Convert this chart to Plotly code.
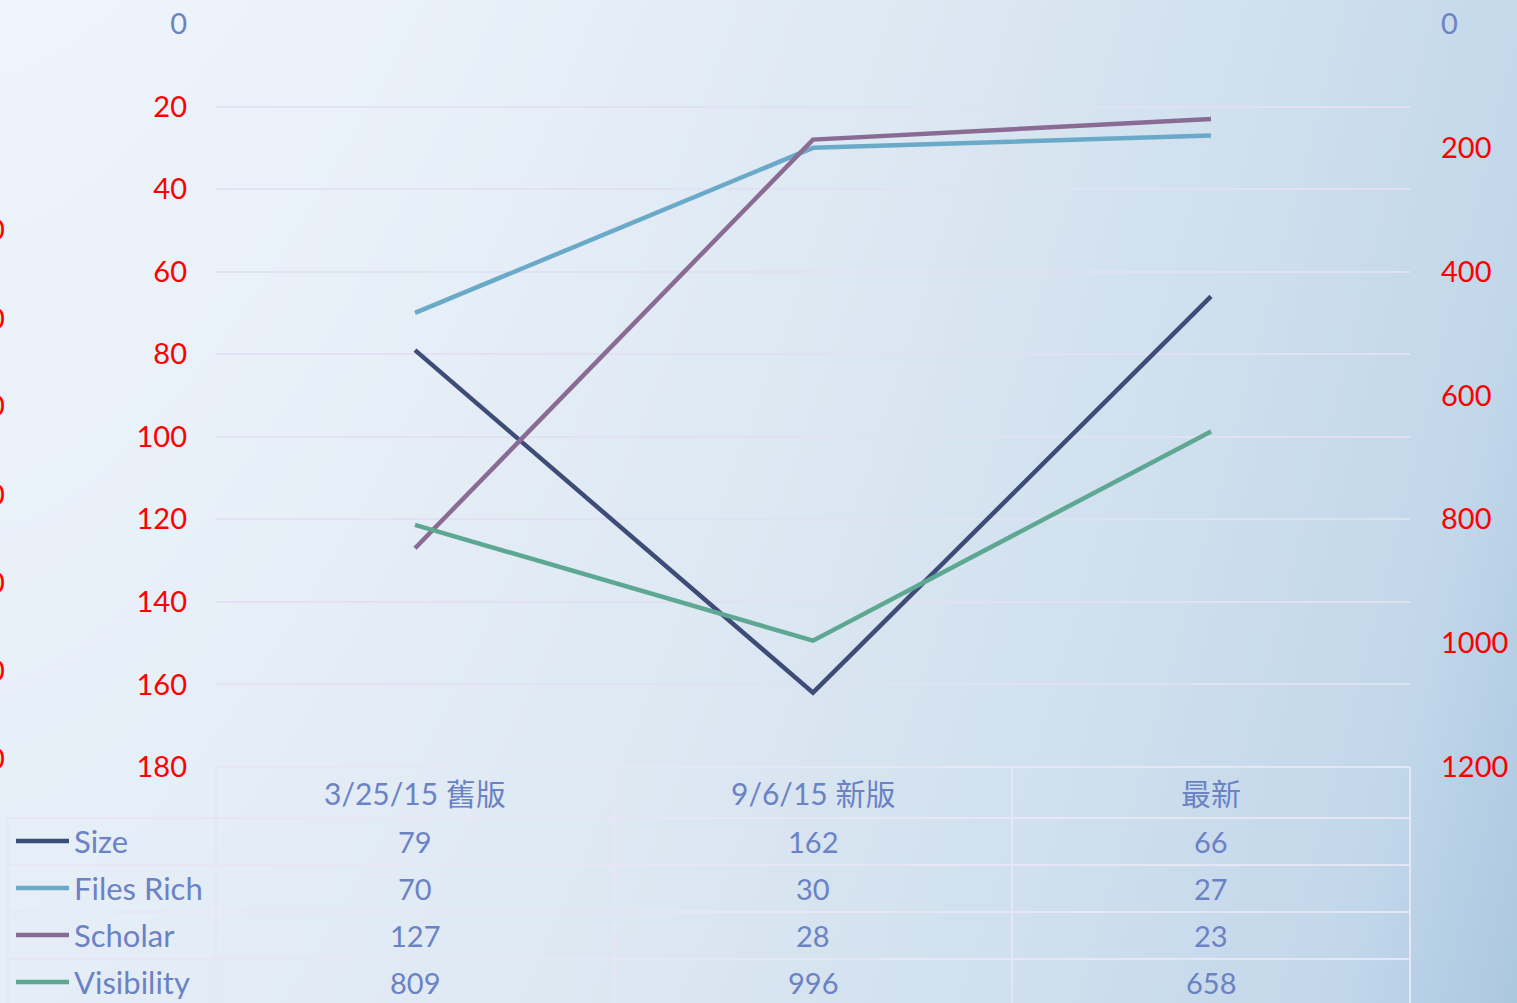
import numpy as np
import plotly.graph_objects as go

# ---- data ----
categories = ["3/25/15 舊版", "9/6/15 新版", "最新"]
series_names = ["Size", "Files Rich", "Scholar", "Visibility"]
size_vals = [79, 162, 66]
files_rich_vals = [70, 30, 27]
scholar_vals = [127, 28, 23]
visibility_vals = [809, 996, 658]
left_ticks = [0, 20, 40, 60, 80, 100, 120, 140, 160, 180]
right_ticks = [0, 200, 400, 600, 800, 1000, 1200]
cut_axis_labels = ["0", "0", "0", "0", "0", "0", "0"]

colors = ["#3e4c78", "#6aaac8", "#8a6b93", "#5ea893"]
TEXT = "#6b82c4"
RED = "#ff0000"
FONT = "Lato, 'Noto Sans CJK TC', sans-serif"
W, H = 1517, 1003

def px(x):
    return x / W

def py(y):
    return 1 - y / H

fig = go.Figure()

# background gradient (styling)
gx = np.linspace(0, 1, 120)
gy = np.linspace(0, 1, 80)
GX, GY = np.meshgrid(gx, gy)
gz = 0.8 * GX ** 1.6 + 0.2 * (1 - GY)
fig.add_trace(go.Heatmap(
    z=gz, x=gx, y=gy, xaxis="x", yaxis="y", showscale=False, hoverinfo="skip",
    zsmooth="best",
    colorscale=[[0, "#eef4fb"], [0.3, "#e0eaf4"], [0.6, "#d0e0ee"], [0.85, "#c2d7ea"], [1, "#abc7e0"]],
))

vals = [size_vals, files_rich_vals, scholar_vals, visibility_vals]
for i, (name, v) in enumerate(zip(series_names, vals)):
    fig.add_trace(go.Scatter(
        x=categories, y=v, name=name, mode="lines",
        line=dict(color=colors[i], width=4.5),
        xaxis="x2", yaxis="y3" if name == "Visibility" else "y2",
        showlegend=False,
    ))

left_text = [f"<span style='color:{TEXT}'>{t}</span>" if t == 0 else str(t) for t in left_ticks]
right_text = [f"<span style='color:{TEXT}'>{t}</span>" if t == 0 else str(t) for t in right_ticks]

x0, x1 = 216, 1410
ytop, ybot = 24, 767

fig.update_layout(
    width=W, height=H, margin=dict(l=0, r=0, t=0, b=0, pad=0, autoexpand=False),
    paper_bgcolor="#e4edf6", plot_bgcolor="rgba(0,0,0,0)",
    font=dict(family=FONT, color=TEXT, size=28),
    showlegend=False,
    xaxis=dict(domain=[0, 1], range=[0, 1], visible=False, fixedrange=True, automargin=False),
    yaxis=dict(domain=[0, 1], range=[0, 1], visible=False, fixedrange=True, automargin=False),
    xaxis2=dict(domain=[px(x0), px(x1)], anchor="y2", type="category",
                range=[-0.5, 2.5], showticklabels=False, showgrid=False,
                showline=False, zeroline=False, automargin=False),
    yaxis2=dict(domain=[py(ybot), py(ytop)], anchor="x2", range=[180, 0],
                tickvals=left_ticks, ticktext=left_text,
                tickfont=dict(color=RED, size=29, family=FONT),
                ticklabelstandoff=28, showgrid=True,
                gridcolor="rgba(226,224,243,0.95)", gridwidth=1.5,
                zeroline=False, showline=False, ticks="", automargin=False),
    yaxis3=dict(overlaying="y2", side="right", anchor="x2", range=[1200, 0],
                tickvals=right_ticks, ticktext=right_text,
                tickfont=dict(color=RED, size=29, family=FONT),
                ticklabelstandoff=30, showgrid=False, zeroline=False,
                showline=False, ticks="", automargin=False),
)

# ---- data table ----
line_col = "rgba(232,230,246,0.95)"
shapes = []
row_lines = [818, 865, 912, 959]
shapes.append(dict(type="line", xref="paper", yref="paper", x0=px(x0), x1=px(x1),
                   y0=py(767), y1=py(767), line=dict(color=line_col, width=2)))
for ry in row_lines:
    shapes.append(dict(type="line", xref="paper", yref="paper", x0=px(8), x1=px(x1),
                       y0=py(ry), y1=py(ry), line=dict(color=line_col, width=2)))
shapes.append(dict(type="line", xref="paper", yref="paper", x0=px(8), x1=px(8),
                   y0=py(818), y1=0, line=dict(color=line_col, width=2)))
for vx in [216, 614, 1012, 1410]:
    shapes.append(dict(type="line", xref="paper", yref="paper", x0=px(vx), x1=px(vx),
                       y0=py(767), y1=0, line=dict(color=line_col, width=2)))

row_centers = [841, 888, 935, 982]
annotations = []
for c in categories:
    annotations.append(dict(x=c, xref="x2", y=py(793), yref="paper", text=c,
                            showarrow=False, xanchor="center", yanchor="middle",
                            font=dict(size=30, color=TEXT, family=FONT)))
for i, (name, v) in enumerate(zip(series_names, vals)):
    yc = row_centers[i]
    shapes.append(dict(type="line", xref="paper", yref="paper", x0=px(16), x1=px(69),
                       y0=py(yc), y1=py(yc), line=dict(color=colors[i], width=4.5)))
    annotations.append(dict(x=px(72), xref="paper", y=py(yc), yref="paper", text=name,
                            showarrow=False, xanchor="left", yanchor="middle",
                            font=dict(size=31, color=TEXT, family=FONT)))
    for c, val in zip(categories, v):
        annotations.append(dict(x=c, xref="x2", y=py(yc), yref="paper", text=str(val),
                                showarrow=False, xanchor="center", yanchor="middle",
                                font=dict(size=29, color=TEXT, family=FONT)))

# cut-off third axis labels at the left edge (clipped in the reference too)
cut_y = [228, 317, 405, 493, 581, 669, 757]
for t, yy in zip(cut_axis_labels, cut_y):
    annotations.append(dict(x=px(7), xref="paper", y=py(yy), yref="paper", text=t,
                            showarrow=False, xanchor="right", yanchor="middle",
                            font=dict(size=29, color=RED, family=FONT)))

fig.update_layout(shapes=shapes, annotations=annotations)
fig.write_html("out.html", config={"displayModeBar": False},
               post_script="document.body.style.margin='0px';document.body.style.overflow='hidden';")
